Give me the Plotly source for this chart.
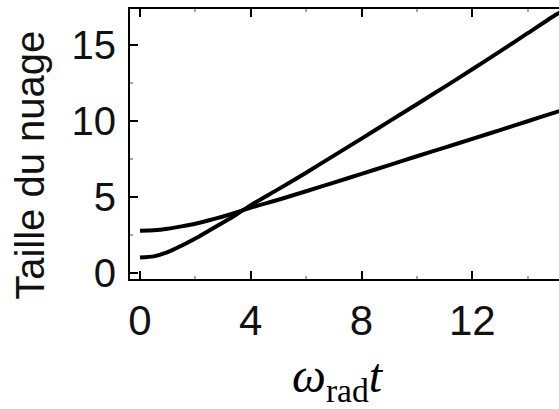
import plotly.graph_objects as go

# omega_rad * t
t = [0, 0.5, 1, 1.5, 2, 2.5, 3, 3.5, 4, 5, 6, 7, 8, 9, 10, 11, 12, 13, 14, 15, 15.2]
# cloud size, curve starting near 1 (steeper)
size_a = [1.0, 1.08, 1.35, 1.78, 2.25, 2.78, 3.3, 3.85, 4.44, 5.5, 6.58, 7.7,
          8.82, 9.95, 11.08, 12.22, 13.38, 14.55, 15.75, 16.95, 17.15]
# cloud size, curve starting near 2.8 (flatter)
size_b = [2.77, 2.8, 2.9, 3.05, 3.22, 3.45, 3.7, 3.98, 4.28, 4.8, 5.36, 5.93,
          6.5, 7.08, 7.66, 8.23, 8.8, 9.38, 9.96, 10.55, 10.65]

x_ticks = [0, 4, 8, 12]
y_ticks = [0, 5, 10, 15]

fig = go.Figure()
for ys in (size_a, size_b):
    fig.add_trace(
        go.Scatter(
            x=t,
            y=ys,
            mode="lines",
            line={"color": "black", "width": 4, "shape": "spline", "smoothing": 0.6},
            showlegend=False,
            hoverinfo="skip",
        )
    )

axis_style = dict(
    showgrid=False,
    zeroline=False,
    showline=True,
    linecolor="black",
    linewidth=2,
    ticks="inside",
    ticklen=8,
    tickwidth=1.5,
    tickcolor="black",
    automargin=False,
)

fig.update_xaxes(
    **axis_style,
    range=[-0.36, 15.13],
    tickvals=x_ticks,
    mirror="ticks",
    tickfont={"family": "Liberation Sans, Arial", "size": 42, "color": "#111"},
    ticklabelstandoff=4,
    minor={"dtick": 2, "ticks": "inside", "ticklen": 3, "tickcolor": "#9ab"},
)
fig.update_yaxes(
    **axis_style,
    range=[-0.41, 17.34],
    tickvals=y_ticks,
    tickfont={"family": "Liberation Sans, Arial", "size": 40, "color": "#111"},
    ticklabelstandoff=4,
    minor={"dtick": 2.5, "ticks": "inside", "ticklen": 3, "tickcolor": "#9ab"},
)

fig.add_annotation(
    text="Taille du nuage",
    textangle=-90,
    xref="paper", yref="paper",
    x=-0.235, y=0.42,
    xanchor="center", yanchor="middle",
    showarrow=False,
    font={"family": "Liberation Sans, Arial", "size": 40, "color": "#111"},
)
fig.add_annotation(
    text="<i>ω</i><sub>rad</sub><i>t</i>",
    xref="paper", yref="paper",
    x=0.485, y=-0.37,
    xanchor="center", yanchor="middle",
    showarrow=False,
    font={"family": "Liberation Serif, DejaVu Serif", "size": 48, "color": "black"},
)

fig.update_layout(
    width=559,
    height=409,
    margin={"l": 130, "r": 0, "t": 9, "b": 130},
    paper_bgcolor="white",
    plot_bgcolor="white",
)

# page body has a default margin that would shift the figure
fig.write_html(
    "out.html",
    config={"displayModeBar": False},
    post_script="document.body.style.margin = '0px';",
)
